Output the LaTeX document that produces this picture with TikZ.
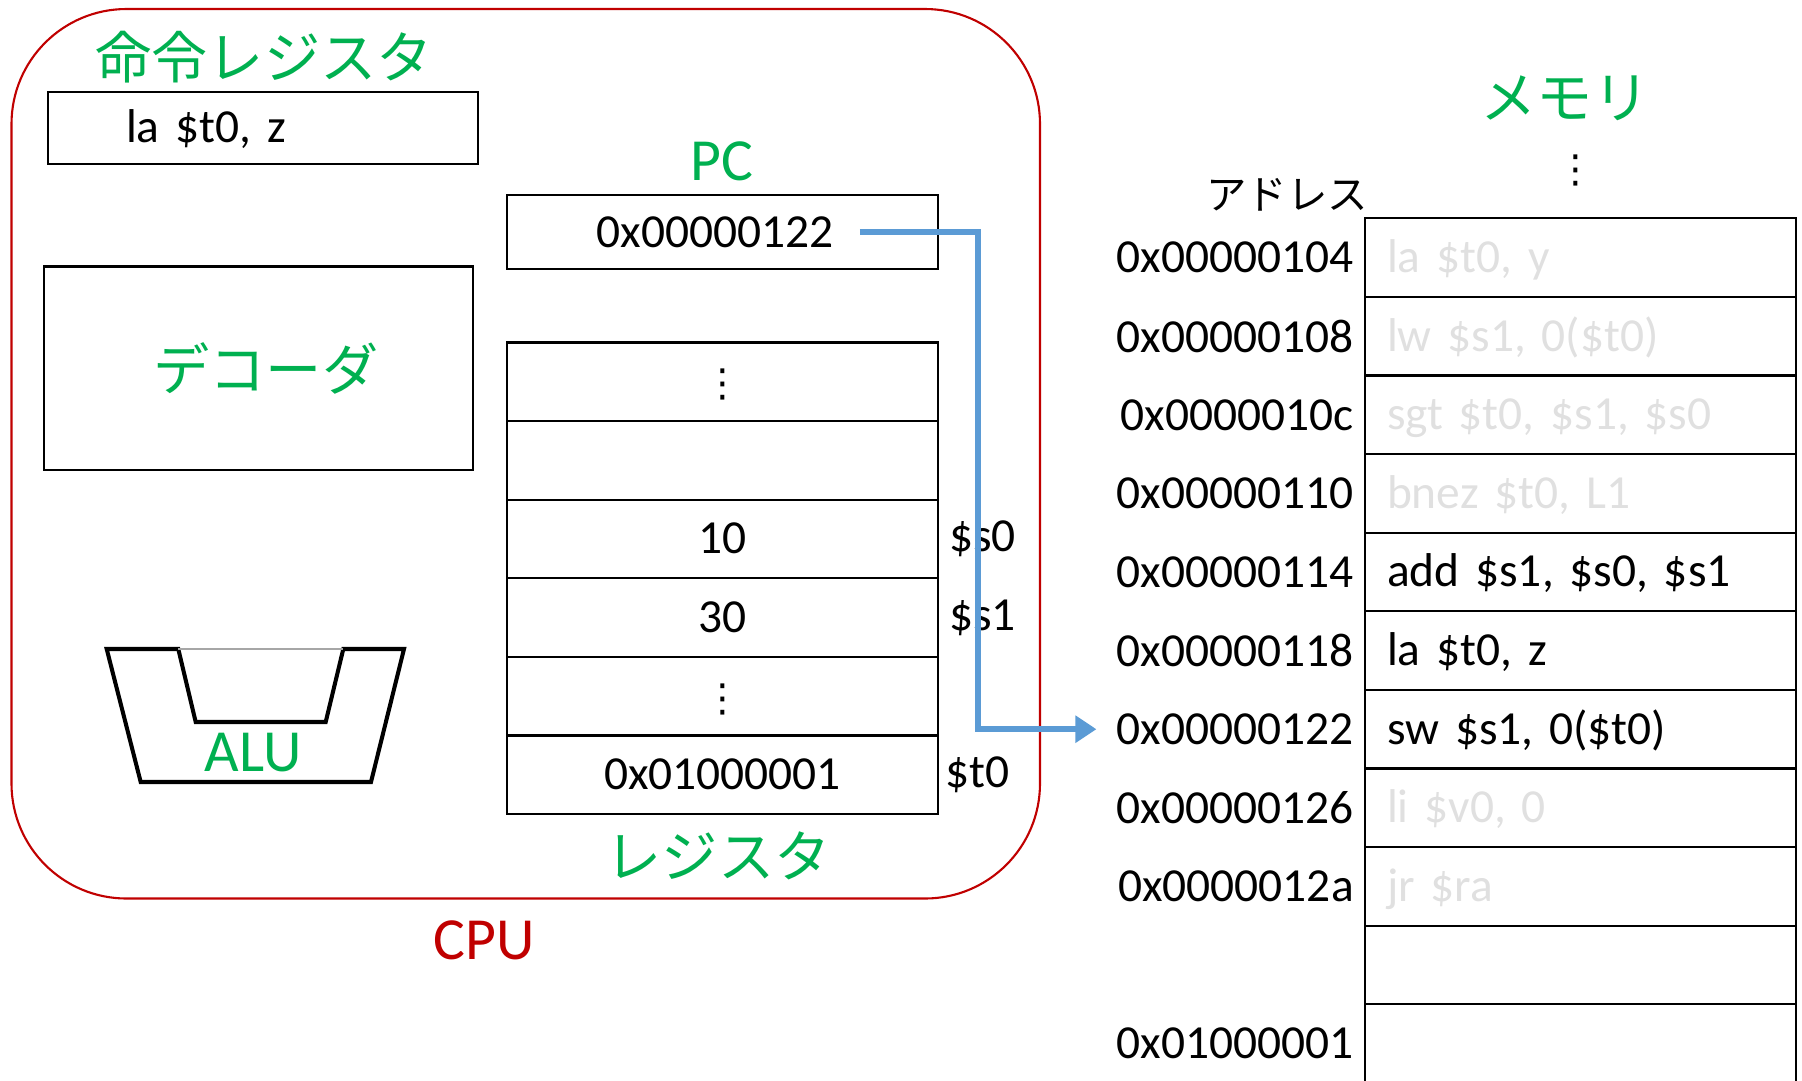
\documentclass[tikz,border=0pt]{standalone}
\usepackage{fontspec}
\setmainfont{Carlito}
\newfontfamily\jpfont{Noto Sans CJK JP}
\newfontfamily\symfont{DejaVu Sans}
\usepackage{tikz}
\usetikzlibrary{arrows.meta}
\usetikzlibrary{positioning}

\definecolor{cpured}{HTML}{C00000}
\definecolor{lblgreen}{HTML}{00B050}
\definecolor{pcblue}{HTML}{5B9BD5}
\definecolor{faint}{HTML}{E0E0E0}

\begin{document}
\begin{tikzpicture}[x=0.02cm, y=-0.02cm]
	\tikzstyle{cell}=[draw, line width=1.3pt, outer sep=0pt, inner sep=0pt, minimum width=8.62cm, minimum height=1.572cm, font=\fontsize{27}{30}\selectfont, text height=18pt, text depth=1pt]
	\tikzstyle{memcell}=[cell, text width=7.74cm, inner xsep=0.44cm, align=left]
	\tikzstyle{addr}=[inner sep=0pt, font=\fontsize{27}{30}\selectfont]
	\tikzstyle{title}=[inner sep=0pt, text=lblgreen, font=\fontsize{34}{40}\selectfont]
	\tikzstyle{jptitle}=[inner sep=0pt, text=lblgreen, font=\jpfont\fontsize{32}{38}\selectfont]
	\tikzstyle{vdot}=[font=\symfont\fontsize{22}{24}\selectfont]
	\tikzstyle{pcarrow}=[draw=pcblue, line width=3.4pt, -{Triangle[length=12pt,width=15pt]}, shorten >=0.4cm]
	
	\useasboundingbox (0,0) rectangle (1802,1080);
	
	% CPU
	\draw[cpured, line width=1.2pt, rounded corners=2.3cm] (11.5,9) rectangle (1040,898.5);
	\node[title, text=cpured] (cpulbl) at (484,940) {CPU};
	
	\node[jptitle] (irlbl) at (264,57) {命令レジスタ};
	\node[cell, minimum width=8.6cm, minimum height=1.44cm, text width=5.48cm, inner xsep=1.56cm, align=left] (ir) at (263,128) {la \$t0, z};
	
	\node[cell, minimum width=8.58cm, minimum height=4.07cm, font=\jpfont\fontsize{32}{38}\selectfont, text=lblgreen, text height=, text depth=] (dec) at (258.5,368.25) {\hspace*{0.3cm}デコーダ};
	
	% ALU
	\draw[line width=2.3pt, line join=miter] (178.3,649) -- (106.7,649) -- (140.7,782) -- (371,782) -- (404,649)
		-- (343.3,649) -- (325.7,722) -- (195.7,722) -- cycle;
	\draw[gray!70, line width=0.6pt] (178.3,649) -- (343.3,649);
	\node[title] (alulbl) at (253,753) {ALU};
	
	% PC
	\node[title] (pclbl) at (722,161) {PC};
	\node[cell, minimum height=1.48cm] (pc) at (722.5,232) {};
	\node[addr, inner xsep=0.52cm] (pcval) at (715,232) {0x00000122};
	
	% registers
	\node[cell] (reg1) at (722.5,381.8) {\symfont\fontsize{22}{24}\selectfont ⋮};
	\node[cell] (reg2) at (722.5,460.4) {};
	\node[cell] (reg3) at (722.5,539.0) {10};
	\node[cell] (reg4) at (722.5,617.6) {30};
	\node[cell] (reg5) at (722.5,696.2) {\symfont\fontsize{22}{24}\selectfont ⋮};
	\node[cell] (reg6) at (722.5,774.8) {0x01000001};
	\node[addr, right=0.22cm of reg3] (s0) {\$s0};
	\node[addr, right=0.22cm of reg4] (s1) {\$s1};
	\node[addr, right=0.14cm of reg6] (t0) {\$t0};
	\node[jptitle] (reglbl) at (718,856) {レジスタ};
	
	% memory
	\node[jptitle] (memlbl) at (1565,98) {メモリ};
	\node[vdot] (memdots) at (1576,170) {⋮};
	\node[addr, font=\jpfont\fontsize{23}{26}\selectfont] (addrhd) at (1287,195) {アドレス};
	
	\node[memcell, text=faint] (mem1) at (1580.5,257.6) {la \$t0, y};
	\node[memcell, text=faint] (mem2) at (1580.5,336.2) {lw \$s1, 0(\$t0)};
	\node[memcell, text=faint] (mem3) at (1580.5,414.8) {sgt \$t0, \$s1, \$s0};
	\node[memcell, text=faint] (mem4) at (1580.5,493.4) {bnez \$t0, L1};
	\node[memcell] (mem5) at (1580.5,572.0) {add \$s1, \$s0, \$s1};
	\node[memcell] (mem6) at (1580.5,650.6) {la \$t0, z};
	\node[memcell] (mem7) at (1580.5,729.2) {sw \$s1, 0(\$t0)};
	\node[memcell, text=faint] (mem8) at (1580.5,807.8) {li \$v0, 0};
	\node[memcell, text=faint] (mem9) at (1580.5,886.4) {jr \$ra};
	\node[memcell] (mem10) at (1580.5,965.0) {};
	\node[memcell] (mem11) at (1580.5,1043.6) {};
	
	\node[addr, left=0.22cm of mem1] (addr1) {0x00000104};
	\node[addr, left=0.22cm of mem2] (addr2) {0x00000108};
	\node[addr, left=0.22cm of mem3] (addr3) {0x0000010c};
	\node[addr, left=0.22cm of mem4] (addr4) {0x00000110};
	\node[addr, left=0.22cm of mem5] (addr5) {0x00000114};
	\node[addr, left=0.22cm of mem6] (addr6) {0x00000118};
	\node[addr, left=0.22cm of mem7] (addr7) {0x00000122};
	\node[addr, left=0.22cm of mem8] (addr8) {0x00000126};
	\node[addr, left=0.22cm of mem9] (addr9) {0x0000012a};
	\node[addr, left=0.22cm of mem11] (addr11) {0x01000001};
	
	% PC points into memory
	\coordinate (turn) at (978,232);
	\draw[pcarrow] (pcval.east) -- (turn) |- (addr7.west);
\end{tikzpicture}
\end{document}
